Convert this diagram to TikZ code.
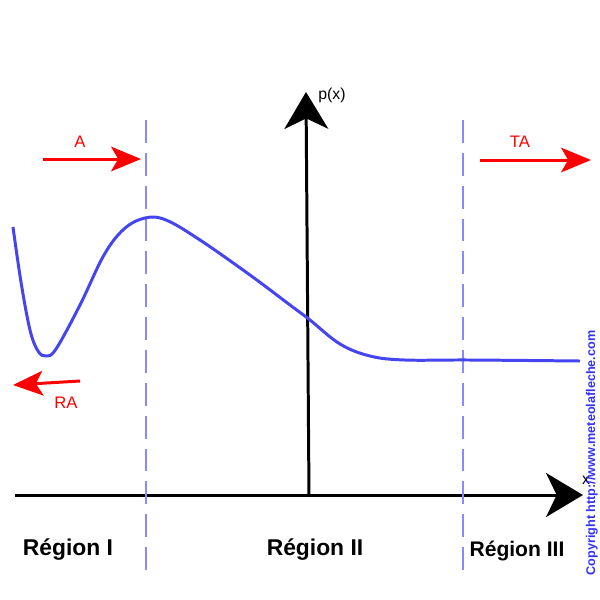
\documentclass[tikz,border=0pt]{standalone}
\usepackage{fontspec}
\setmainfont{Liberation Sans}
\usetikzlibrary{arrows.meta,positioning}
\definecolor{curveblue}{RGB}{68,68,240}
\definecolor{dashblue}{RGB}{136,136,255}
\definecolor{copyblue}{RGB}{51,51,255}
\tikzset{axis line/.style={line width=1.7pt,-{Stealth[length=21pt,width=25pt,inset=6pt]}},
  region line/.style={line width=1.1pt,dashblue,dash pattern=on 13pt off 5.7pt},
  flow arrow/.style={line width=1.7pt,red,-{Stealth[length=17pt,width=14pt,inset=4pt]}},
  region label/.style={font=\bfseries\fontsize{13}{13}\selectfont},
  flow label/.style={red,font=\fontsize{9.5}{10}\selectfont},
            }

\begin{document}
\begin{tikzpicture}[x=0.02cm,y=-0.02cm]
    \useasboundingbox (0,0) rectangle (600,600);
    % axes
    \coordinate (O) at (309,495);
    \coordinate (xstart) at (15,495);
    \coordinate (xtip) at (583,495);
    \coordinate (ytip) at (306,92);
    \draw[axis line] (xstart) -- (xtip);
    \draw[axis line] (O) -- (ytip);
    \node (px) at (332,95) {\fontsize{9}{9}\selectfont p(x)};
    \node (xl) at (586,480) {\fontsize{9}{9}\selectfont x};

    % region borders
    \coordinate (b1top) at (146,120);
    \coordinate (b1bot) at (146,575);
    \coordinate (b2top) at (463,120);
    \coordinate (b2bot) at (463,575);
    \draw[region line] (b1top) -- (b1bot);
    \draw[region line] (b2top) -- (b2bot);

    % potential
    \draw[curveblue,line width=1.7pt] plot[smooth,tension=0.6] coordinates {
      (13,227) (21,282) (30,330) (38,351) (46,356) (56,349) (80,305) (104,255)
      (124,229) (145,218) (166,220) (200,240) (250,275) (290,305)
      (310,320) (340,344) (370,356) (405,360) (470,360) (580,361)};

    % waves
    \coordinate (a1) at (43,159);
    \coordinate (a2) at (141,159);
    \coordinate (ta1) at (480,160);
    \coordinate (ta2) at (591,160);
    \coordinate (ra1) at (80,381);
    \coordinate (ra2) at (13,385);
    \draw[flow arrow] (a1) -- (a2);
    \draw[flow arrow] (ta1) -- (ta2);
    \draw[flow arrow] (ra1) -- (ra2);
    \node[flow label] (A) at (80,142) {A};
    \node[flow label] (TA) at (520,142) {TA};
    \node[flow label] (RA) at (66,403) {RA};

    % regions
    \node[region label] (r1) at (68,550) {Région I};
    \node[region label] (r2) at (315,550) {Région II};
    \node[region label,font=\bfseries\fontsize{12}{12}\selectfont] (r3) at (517,551) {Région III};

    \node[copyblue,rotate=90,font=\bfseries\fontsize{7.2}{8}\selectfont] (copy) at (592,453) {Copyright http://www.meteolafleche.com};
  \end{tikzpicture}
\end{document}
